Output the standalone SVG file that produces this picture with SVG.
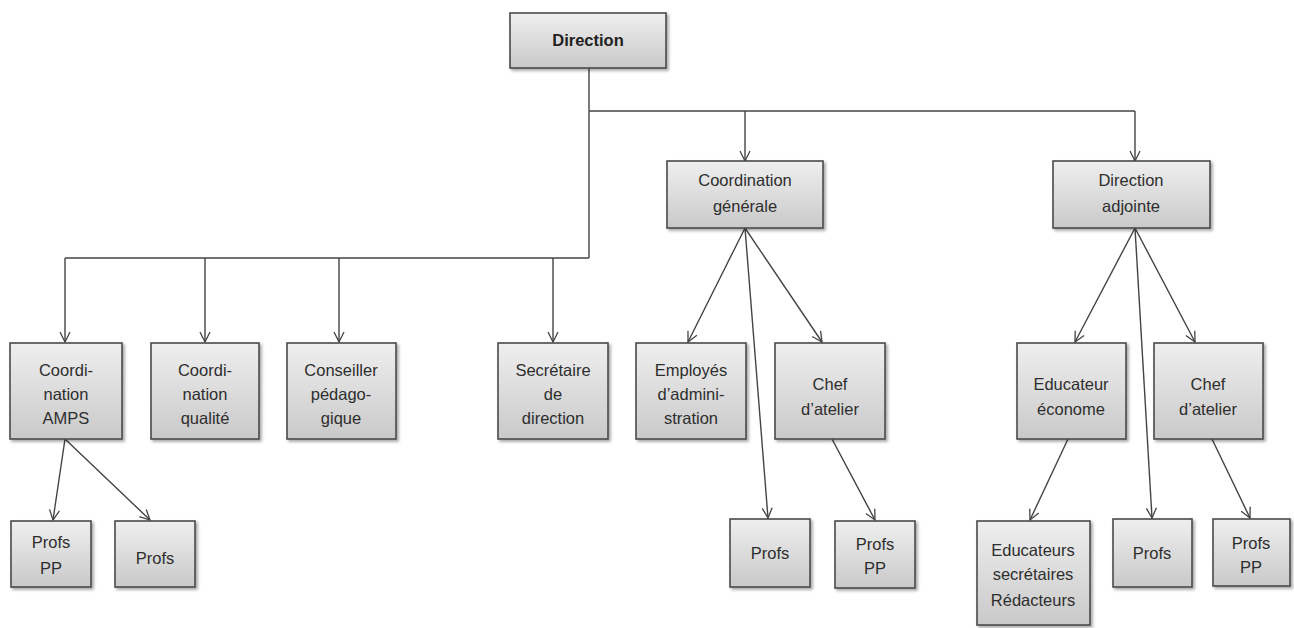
<svg xmlns="http://www.w3.org/2000/svg" width="1294" height="628" viewBox="0 0 1294 628">
<defs>
<linearGradient id="g" x1="0" y1="0" x2="0" y2="1">
<stop offset="0" stop-color="#efefef"/>
<stop offset="1" stop-color="#c9c9c9"/>
</linearGradient>
<filter id="sh" x="-10%" y="-10%" width="130%" height="130%">
<feDropShadow dx="2" dy="2" stdDeviation="1.5" flood-color="#000" flood-opacity="0.35"/>
</filter>
<marker id="ar" viewBox="0 0 12 12" refX="11" refY="6" markerWidth="12" markerHeight="12" markerUnits="userSpaceOnUse" orient="auto">
<path d="M1,1 L11,6 L1,11" fill="none" stroke="#444" stroke-width="1.3"/>
</marker>
</defs>
<style>
rect.b{fill:url(#g);stroke:#4a4a4a;stroke-width:1.6;filter:url(#sh)}
text{font-family:"Liberation Sans",Arial,sans-serif;font-size:16.5px;fill:#2e2e2e;text-anchor:middle}
text.bold{font-weight:bold;fill:#222}
.c{fill:none;stroke:#444;stroke-width:1.4}
.a{fill:none;stroke:#444;stroke-width:1.4;marker-end:url(#ar)}
</style>
<rect width="1294" height="628" fill="#fff"/>
<g id="connectors">
<polyline class="c" points="589,68 589,258"/>
<polyline class="c" points="589,111 1135,111"/>
<polyline class="c" points="65,258 589,258"/>
<line class="a" x1="745" y1="111" x2="745" y2="161"/>
<line class="a" x1="1135" y1="111" x2="1135" y2="161"/>
<line class="a" x1="65" y1="258" x2="65" y2="342"/>
<line class="a" x1="205" y1="258" x2="205" y2="342"/>
<line class="a" x1="339" y1="258" x2="339" y2="342"/>
<line class="a" x1="553" y1="258" x2="553" y2="342"/>
<line class="a" x1="65" y1="439" x2="53" y2="520"/>
<line class="a" x1="65" y1="439" x2="150" y2="520"/>
<line class="a" x1="745" y1="228" x2="688" y2="342"/>
<line class="a" x1="745" y1="228" x2="768" y2="518"/>
<line class="a" x1="745" y1="228" x2="822" y2="342"/>
<line class="a" x1="832" y1="439" x2="875" y2="520"/>
<line class="a" x1="1135" y1="228" x2="1075" y2="342"/>
<line class="a" x1="1135" y1="228" x2="1152" y2="518"/>
<line class="a" x1="1135" y1="228" x2="1195" y2="342"/>
<line class="a" x1="1068" y1="439" x2="1030" y2="520"/>
<line class="a" x1="1212" y1="439" x2="1250" y2="518"/>
</g>
<g id="direction"><rect class="b" x="510" y="13" width="156" height="55"/><text class="bold" x="588" y="46">Direction</text></g>
<g id="coord-generale"><rect class="b" x="667" y="161" width="156" height="67"/><text x="745" y="186">Coordination</text><text x="745" y="212">générale</text></g>
<g id="direction-adjointe"><rect class="b" x="1053" y="161" width="157" height="67"/><text x="1131" y="186">Direction</text><text x="1131" y="212">adjointe</text></g>
<g id="coord-amps"><rect class="b" x="10" y="343" width="112" height="96"/><text x="66" y="376">Coordi-</text><text x="66" y="400">nation</text><text x="66" y="424">AMPS</text></g>
<g id="coord-qualite"><rect class="b" x="151" y="343" width="108" height="96"/><text x="205" y="376">Coordi-</text><text x="205" y="400">nation</text><text x="205" y="424">qualité</text></g>
<g id="conseiller"><rect class="b" x="287" y="343" width="109" height="96"/><text x="341" y="376">Conseiller</text><text x="341" y="400">pédago-</text><text x="341" y="424">gique</text></g>
<g id="secretaire"><rect class="b" x="498" y="343" width="110" height="96"/><text x="553" y="376">Secrétaire</text><text x="553" y="400">de</text><text x="553" y="424">direction</text></g>
<g id="employes"><rect class="b" x="636" y="343" width="110" height="96"/><text x="691" y="376">Employés</text><text x="691" y="400">d’admini-</text><text x="691" y="424">stration</text></g>
<g id="chef-atelier-1"><rect class="b" x="775" y="343" width="110" height="96"/><text x="830" y="390">Chef</text><text x="830" y="415">d’atelier</text></g>
<g id="educateur-econome"><rect class="b" x="1017" y="343" width="109" height="96"/><text x="1071" y="390">Educateur</text><text x="1071" y="415">économe</text></g>
<g id="chef-atelier-2"><rect class="b" x="1154" y="343" width="109" height="96"/><text x="1208" y="390">Chef</text><text x="1208" y="415">d’atelier</text></g>
<g id="profs-pp-1"><rect class="b" x="11" y="521" width="80" height="66"/><text x="51" y="548">Profs</text><text x="51" y="574">PP</text></g>
<g id="profs-1"><rect class="b" x="115" y="521" width="80" height="66"/><text x="155" y="564">Profs</text></g>
<g id="profs-2"><rect class="b" x="730" y="519" width="80" height="68"/><text x="770" y="559">Profs</text></g>
<g id="profs-pp-2"><rect class="b" x="835" y="521" width="80" height="67"/><text x="875" y="550">Profs</text><text x="875" y="574">PP</text></g>
<g id="educateurs"><rect class="b" x="977" y="521" width="113" height="104"/><text x="1033" y="556">Educateurs</text><text x="1033" y="580">secrétaires</text><text x="1033" y="606">Rédacteurs</text></g>
<g id="profs-3"><rect class="b" x="1113" y="519" width="79" height="68"/><text x="1152" y="559">Profs</text></g>
<g id="profs-pp-3"><rect class="b" x="1213" y="519" width="77" height="67"/><text x="1251" y="549">Profs</text><text x="1251" y="573">PP</text></g>
</svg>
